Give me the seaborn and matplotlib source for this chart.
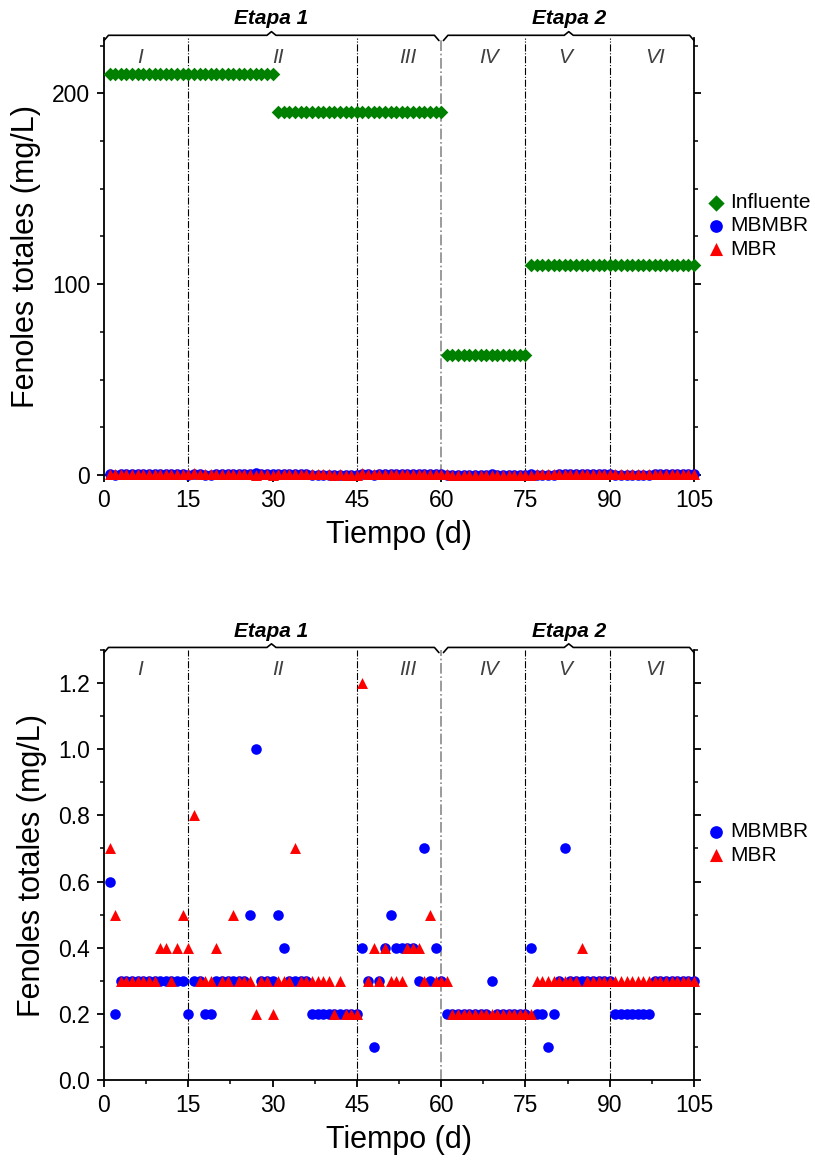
import numpy as np
import pandas as pd
import matplotlib.pyplot as plt
import seaborn as sns
from matplotlib.ticker import MultipleLocator

# Datos

dias = list(range(1, 106))

influente = [
    210, 210, 210, 210, 210, 210, 210, 210, 210, 210, 210, 210, 210, 210, 210,
    210, 210, 210, 210, 210, 210, 210, 210, 210, 210, 210, 210, 210, 210, 210,
    190, 190, 190, 190, 190, 190, 190, 190, 190, 190, 190, 190, 190, 190, 190,
    190, 190, 190, 190, 190, 190, 190, 190, 190, 190, 190, 190, 190, 190, 190,
    63, 63, 63, 63, 63, 63, 63, 63, 63, 63, 63, 63, 63, 63, 63,
    110, 110, 110, 110, 110, 110, 110, 110, 110, 110, 110, 110, 110, 110, 110,
    110, 110, 110, 110, 110, 110, 110, 110, 110, 110, 110, 110, 110, 110, 110,
]

mbmbr = [
    0.6, 0.2, 0.3, 0.3, 0.3, 0.3, 0.3, 0.3, 0.3, 0.3, 0.3, 0.3, 0.3, 0.3, 0.2,
    0.3, 0.3, 0.2, 0.2, 0.3, 0.3, 0.3, 0.3, 0.3, 0.3, 0.5, 1.0, 0.3, 0.3, 0.3,
    0.5, 0.4, 0.3, 0.3, 0.3, 0.3, 0.2, 0.2, 0.2, 0.2, 0.2, 0.2, 0.2, 0.2, 0.2,
    0.4, 0.3, 0.1, 0.3, 0.4, 0.5, 0.4, 0.4, 0.4, 0.4, 0.3, 0.7, 0.3, 0.4, 0.3,
    0.2, 0.2, 0.2, 0.2, 0.2, 0.2, 0.2, 0.2, 0.3, 0.2, 0.2, 0.2, 0.2, 0.2, 0.2,
    0.4, 0.2, 0.2, 0.1, 0.2, 0.3, 0.7, 0.3, 0.3, 0.3, 0.3, 0.3, 0.3, 0.3, 0.3,
    0.2, 0.2, 0.2, 0.2, 0.2, 0.2, 0.2, 0.3, 0.3, 0.3, 0.3, 0.3, 0.3, 0.3, 0.3,
]

mbr = [
    0.7, 0.5, 0.3, 0.3, 0.3, 0.3, 0.3, 0.3, 0.3, 0.4, 0.4, 0.3, 0.4, 0.5, 0.4,
    0.8, 0.3, 0.3, 0.3, 0.4, 0.3, 0.3, 0.5, 0.3, 0.3, 0.3, 0.2, 0.3, 0.3, 0.2,
    0.3, 0.3, 0.3, 0.7, 0.3, 0.3, 0.3, 0.3, 0.3, 0.3, 0.2, 0.3, 0.2, 0.2, 0.2,
    1.2, 0.3, 0.4, 0.3, 0.4, 0.3, 0.3, 0.3, 0.4, 0.4, 0.4, 0.3, 0.5, 0.3, 0.3,
    0.3, 0.2, 0.2, 0.2, 0.2, 0.2, 0.2, 0.2, 0.2, 0.2, 0.2, 0.2, 0.2, 0.2, 0.2,
    0.2, 0.3, 0.3, 0.3, 0.3, 0.3, 0.3, 0.3, 0.3, 0.4, 0.3, 0.3, 0.3, 0.3, 0.3,
    0.3, 0.3, 0.3, 0.3, 0.3, 0.3, 0.3, 0.3, 0.3, 0.3, 0.3, 0.3, 0.3, 0.3, 0.3,
]

etapas = ["Etapa 1", "Etapa 2"]
etapa_limites = [(0, 59.6), (60.4, 105)]
fases = ["I", "II", "III", "IV", "V", "VI"]
fase_x = [6.5, 31, 54, 68.5, 82, 98]
cambios = [15, 45, 60, 75, 90]

df = pd.DataFrame({
    "Tiempo": dias,
    "Influente": influente,
    "MBMBR": mbmbr,
    "MBR": mbr,
})

estilos = {
    "Influente": dict(color="#008000", marker="D", s=48),
    "MBMBR": dict(color="#0000FF", marker="o", s=58),
    "MBR": dict(color="#FF0000", marker="^", s=62),
}

sns.set_theme(style="ticks")
plt.rcParams["font.family"] = ["Liberation Sans", "DejaVu Sans"]
plt.rcParams["text.color"] = "black"
plt.rcParams["axes.labelcolor"] = "black"


def llave(ax, x0, x1, texto):
    tr = ax.get_xaxis_transform()
    y, d, e = 1.006, 0.012, 0.8
    xm = (x0 + x1) / 2
    ax.plot([x0, x0 + e, xm - e, xm, xm + e, x1 - e, x1],
            [y - d, y, y, y + d * 0.7, y, y, y - d],
            color="black", lw=1.2, transform=tr, clip_on=False)
    ax.text(xm, y + 0.016, texto, transform=tr, ha="center", va="bottom",
            fontsize=15, fontweight="bold", fontstyle="italic")


def preparar(ax, series, ymax, ymayor, ymenor, fmt):
    for nombre in series:
        sns.scatterplot(data=df, x="Tiempo", y=nombre, ax=ax, label=nombre,
                        linewidth=0, clip_on=False, zorder=3, **estilos[nombre])

    for c in cambios:
        if c == 60:
            ax.axvline(c, color="#8a8a8a", ls="-.", lw=1.2, zorder=1)
        else:
            ax.axvline(c, color="black", ls="-.", lw=0.8, zorder=1)

    tr = ax.get_xaxis_transform()
    for f, fx in zip(fases, fase_x):
        ax.text(fx, 0.955, f, transform=tr, ha="center", va="center",
                fontsize=15, fontstyle="italic", color="#404040")

    for et, (a, b) in zip(etapas, etapa_limites):
        llave(ax, a, b, et)

    ax.set_xlim(0, 105)
    ax.set_ylim(0, ymax)
    ax.xaxis.set_major_locator(MultipleLocator(15))
    ax.xaxis.set_minor_locator(MultipleLocator(7.5))
    ax.yaxis.set_major_locator(MultipleLocator(ymayor))
    ax.yaxis.set_minor_locator(MultipleLocator(ymenor))
    ax.yaxis.set_major_formatter(fmt)

    ax.spines["top"].set_visible(False)
    for lado in ["left", "bottom", "right"]:
        ax.spines[lado].set_linewidth(1.3)
        ax.spines[lado].set_color("black")
    ax.tick_params(axis="both", which="major", labelsize=16.5, direction="out",
                   length=5, width=1.3, pad=5, colors="black")
    ax.tick_params(axis="both", which="minor", direction="out", length=3,
                   width=1.1, colors="black")
    ax.tick_params(axis="y", which="both", right=True, labelright=False)

    ax.set_xlabel("Tiempo (d)", fontsize=22, labelpad=6)
    ax.set_ylabel("Fenoles totales (mg/L)", fontsize=22, labelpad=8)
    ax.legend(loc="center left", frameon=False, fontsize=15,
              handletextpad=0.05, handlelength=1.3, labelspacing=0.2,
              borderaxespad=0.0, markerscale=1.2)


fig = plt.figure(figsize=(8.15, 11.67), dpi=100)

ax1 = fig.add_axes([0.1276, 0.593, 0.724, 0.3745])
preparar(ax1, ["Influente", "MBMBR", "MBR"], 229, 100, 25, "{x:.0f}")
ax1.legend_.set_bbox_to_anchor((1.0, 0.57))

ax2 = fig.add_axes([0.1276, 0.0745, 0.724, 0.3685])
preparar(ax2, ["MBMBR", "MBR"], 1.3, 0.2, 0.1, "{x:.1f}")
ax2.legend_.set_bbox_to_anchor((1.0, 0.55))

plt.savefig("out.png", dpi=100)
